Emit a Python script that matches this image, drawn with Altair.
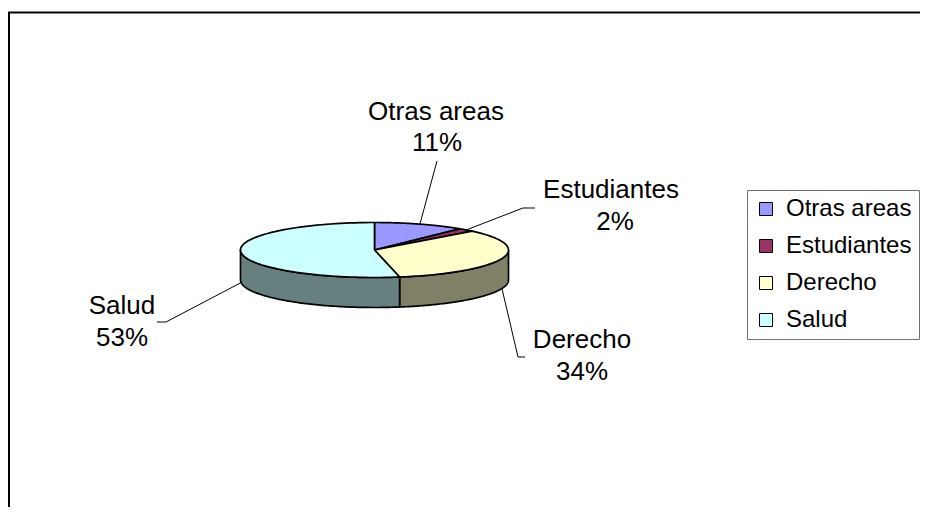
import altair as alt
import pandas as pd

# ---- data ----
categories = ["Otras areas", "Estudiantes", "Derecho", "Salud"]
values = [11, 2, 34, 53]

# ---- styles ----
top_colors = ["#9999FF", "#993366", "#FFFFCC", "#CCFFFF"]
side_colors = ["#4D4D80", "#4D1A33", "#808066", "#668080"]
FONT = "Liberation Sans"
FS = 26
LEG_FS = 24

# ---- layout (chart pixel coordinates) ----
W, H = 912, 499
CX, CY, RX, RY, DEPTH = 366.5, 242, 134, 27.5, 30
N = 90
name_x = [428, 603, 574, 114]
name_y = [104, 182, 332, 298]
pct_x = [429, 607, 574, 114]
pct_y = [135, 214, 364, 330]
elbow_x = [429, 515, 510, 158]
elbow_y = [153, 200, 349, 314]
end_x = [429, 527, 517, 149]
end_y = [153, 200, 349, 314]

df = pd.DataFrame({
    "category": categories, "value": values, "idx": list(range(len(categories))),
    "nx": name_x, "ny": name_y, "qx": pct_x, "qy": pct_y,
    "ex": elbow_x, "ey": elbow_y, "fx": end_x, "fy": end_y,
})

xs = alt.Scale(domain=[0, W], nice=False, zero=False)
ys = alt.Scale(domain=[0, H], nice=False, zero=False, reverse=True)

base = alt.Chart(df).transform_joinaggregate(total="sum(value)").transform_window(
    cum="sum(value)", sort=[alt.SortField("idx")], frame=[None, 0]
).transform_calculate(
    a0="2*PI*(datum.cum - datum.value)/datum.total",
    a1="2*PI*datum.cum/datum.total",
)

# side walls (front half only)
sides = base.transform_calculate(
    lo="max(datum.a0, PI/2)",
    hi="min(datum.a1, 3*PI/2)",
).transform_filter("datum.hi > datum.lo").transform_calculate(
    k=f"sequence(0, {2 * N + 3})"
).transform_flatten(["k"]).transform_calculate(
    ang=(f"datum.k <= {N} ? datum.lo + (datum.hi - datum.lo) * datum.k / {N} : "
         f"datum.k <= {2 * N + 1} ? datum.lo + (datum.hi - datum.lo) * ({2 * N + 1} - datum.k) / {N} : datum.lo"),
    dz=f"(datum.k > {N} && datum.k <= {2 * N + 1}) ? {DEPTH} : 0",
    px=f"{CX} + {RX} * sin(datum.ang)",
    py=f"{CY} - {RY} * cos(datum.ang) + datum.dz",
).mark_line(filled=True, stroke="black", strokeWidth=1.7, strokeJoin="round").encode(
    x=alt.X("px:Q", scale=xs, axis=None),
    y=alt.Y("py:Q", scale=ys, axis=None),
    fill=alt.Fill("category:N", scale=alt.Scale(domain=categories, range=side_colors), legend=None),
    order=alt.Order("k:Q"),
)

# top faces
tops = base.transform_calculate(
    k=f"sequence(0, {N + 3})"
).transform_flatten(["k"]).transform_calculate(
    ang=f"datum.a0 + (datum.a1 - datum.a0) * (datum.k - 1) / {N}",
    px=f"(datum.k == 0 || datum.k == {N + 2}) ? {CX} : {CX} + {RX} * sin(datum.ang)",
    py=f"(datum.k == 0 || datum.k == {N + 2}) ? {CY} : {CY} - {RY} * cos(datum.ang)",
).mark_line(filled=True, stroke="black", strokeWidth=1.7, strokeJoin="round").encode(
    x=alt.X("px:Q", scale=xs, axis=None),
    y=alt.Y("py:Q", scale=ys, axis=None),
    fill=alt.Fill(
        "category:N",
        scale=alt.Scale(domain=categories, range=top_colors),
        legend=alt.Legend(
            title=None, orient="none", legendX=739, legendY=182,
            symbolType="square", symbolSize=169, symbolStrokeColor="black",
            symbolStrokeWidth=1, symbolOpacity=1,
            labelFont=FONT, labelFontSize=LEG_FS, labelColor="black", labelLimit=400,
            rowPadding=13, padding=7, labelOffset=8,
            strokeColor="#707070",
        ),
    ),
    order=alt.Order("k:Q"),
)

# leader lines
leaders = base.transform_calculate(
    mid="(datum.a0 + datum.a1) / 2",
    k="sequence(0, 3)",
).transform_flatten(["k"]).transform_calculate(
    px=f"datum.k == 0 ? {CX} + {RX} * sin(datum.mid) : datum.k == 1 ? datum.ex : datum.fx",
    py=(f"datum.k == 0 ? {CY} - {RY} * cos(datum.mid) + (cos(datum.mid) < 0 ? {DEPTH} : 0) : "
        f"datum.k == 1 ? datum.ey : datum.fy"),
).mark_line(color="black", strokeWidth=1).encode(
    x=alt.X("px:Q", scale=xs, axis=None),
    y=alt.Y("py:Q", scale=ys, axis=None),
    detail="category:N",
    order=alt.Order("k:Q"),
)

names = base.mark_text(font=FONT, fontSize=FS, color="black", align="center", baseline="middle").encode(
    x=alt.X("nx:Q", scale=xs, axis=None),
    y=alt.Y("ny:Q", scale=ys, axis=None),
    text="category:N",
)

pcts = base.transform_calculate(
    pct="round(datum.value / datum.total * 100) + '%'"
).mark_text(font=FONT, fontSize=FS, color="black", align="center", baseline="middle").encode(
    x=alt.X("qx:Q", scale=xs, axis=None),
    y=alt.Y("qy:Q", scale=ys, axis=None),
    text="pct:N",
)

frame_df = pd.DataFrame({"a": [0]})
frame_top = alt.Chart(frame_df).mark_rule(color="black", strokeWidth=2).encode(
    x=alt.value(0), x2=alt.value(W), y=alt.value(4.5)
)
frame_left = alt.Chart(frame_df).mark_rule(color="black", strokeWidth=2).encode(
    x=alt.value(1), y=alt.value(4), y2=alt.value(H)
)

chart = alt.layer(frame_top, frame_left, sides, tops, leaders, names, pcts).resolve_scale(
    fill="independent"
).properties(
    width=W, height=H, padding=0, autosize="none", background="white"
).configure_view(stroke=None)

chart.save("out.html", embed_options={"renderer": "svg", "actions": False})
